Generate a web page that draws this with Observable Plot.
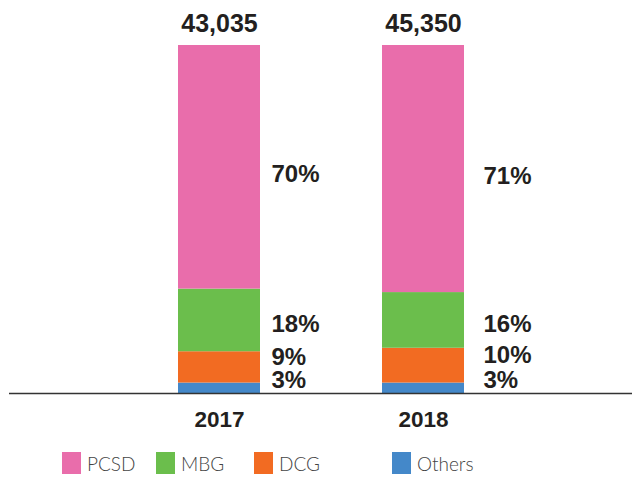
<!DOCTYPE html>
<html><head><meta charset="utf-8">
<script src="https://cdn.jsdelivr.net/npm/d3@7"></script>
<script src="https://cdn.jsdelivr.net/npm/@observablehq/plot@0.6"></script>
<style>
body{margin:0;background:#fff;}
#wrap{position:relative;width:633px;height:477px;overflow:hidden;}
#chart svg{display:block;}
.leg{position:absolute;top:452px;height:22px;display:flex;align-items:center;font-family:Lato,"Open Sans",sans-serif;font-weight:300;font-size:19px;color:#444;white-space:nowrap;}
.sw{width:19px;height:22px;margin-right:6px;flex:none;}
</style></head><body>
<div id="wrap"><div id="chart"></div></div>
<script>
const years = ["2017", "2018"];
const totals = [43035, 45350];
const series = ["Others", "DCG", "MBG", "PCSD"];
const pcsd = [70, 71];
const mbg = [18, 16];
const dcg = [9, 10];
const others = [3, 3];
const colors = ["#4488C9", "#F26B22", "#6BBE4C", "#E96DAB"];
const legendOrder = ["PCSD", "MBG", "DCG", "Others"];
const legendLeft = [62, 156, 254, 392];

const valuesBySeries = {Others: others, DCG: dcg, MBG: mbg, PCSD: pcsd};
const data = years.flatMap((yr, i) => series.map(s => ({year: yr, series: s, value: valuesBySeries[s][i]})));
const totalData = years.map((yr, i) => ({year: yr, total: totals[i], sum: series.reduce((a, s) => a + valuesBySeries[s][i], 0)}));

const labelDy = {PCSD: 7, MBG: 4, DCG: -10.5, Others: -7.5};
const labelDx = {"2017": 52, "2018": 60};
const ink = "#231F20";
const font = "Liberation Sans, Arial, sans-serif";

const labelMarks = years.flatMap(yr => series.map(s =>
  Plot.text(data, Plot.filter(d => d.year === yr && d.series === s, Plot.stackY({
    x: "year", y: "value", z: "series", order: series,
    text: d => d.value + "%",
    textAnchor: "start", dx: labelDx[yr], dy: labelDy[s],
    fontSize: 24, fontWeight: "bold", fill: ink, fontFamily: font
  })))
));

const chart = Plot.plot({
  width: 633,
  height: 440,
  marginTop: 45,
  marginBottom: 47,
  marginLeft: 9,
  marginRight: 1,
  style: {fontFamily: font, background: "#fff"},
  x: {domain: years, range: [56, 586], padding: 0.598, axis: null},
  y: {domain: [0, 100], axis: null},
  color: {domain: series, range: colors},
  marks: [
    Plot.barY(data, Plot.stackY({x: "year", y: "value", fill: "series", order: series})),
    Plot.ruleY([0], {stroke: "#333", strokeWidth: 1.6}),
    Plot.text(years, {x: d => d, frameAnchor: "bottom", lineAnchor: "middle", dy: 26.5, text: d => d, fontSize: 22.5, fontWeight: "bold", fill: ink, fontFamily: font}),
    Plot.text(totalData, {x: "year", y: "sum", text: d => d3.format(",")(d.total), dy: -22, fontSize: 25, fontWeight: "bold", fill: ink, fontFamily: font}),
    ...labelMarks
  ]
});
document.getElementById("chart").appendChild(chart);

const wrap = document.getElementById("wrap");
legendOrder.forEach((s, i) => {
  const item = document.createElement("div");
  item.className = "leg";
  item.style.left = legendLeft[i] + "px";
  const sw = document.createElement("div");
  sw.className = "sw";
  sw.style.background = colors[series.indexOf(s)];
  const lab = document.createElement("span");
  lab.textContent = s;
  item.appendChild(sw);
  item.appendChild(lab);
  wrap.appendChild(item);
});
</script>
</body></html>
